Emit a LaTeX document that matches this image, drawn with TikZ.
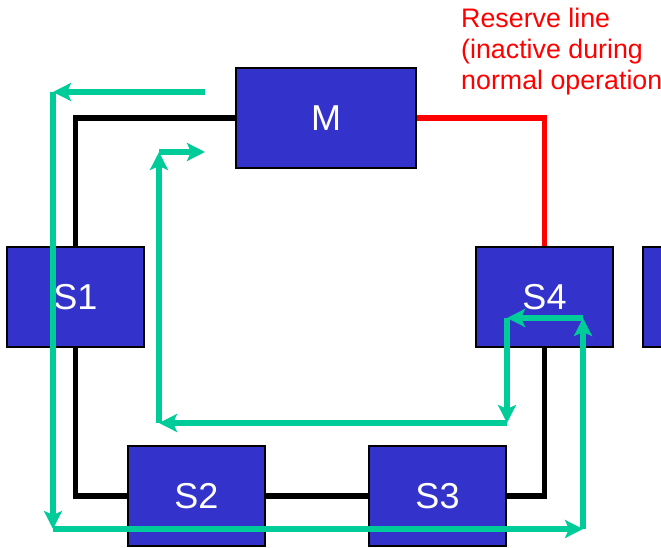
\documentclass[tikz,border=0pt]{standalone}
\usepackage{fontspec}
\setmainfont{Liberation Sans}
\usetikzlibrary{arrows.meta,backgrounds}
\definecolor{rnbox}{HTML}{3333CC}
\definecolor{rnflow}{HTML}{00CC99}
\definecolor{rnres}{HTML}{FF0000}
\tikzset{
  station/.style={draw=black,line width=2pt,fill=rnbox,minimum width=137pt,
              minimum height=100pt,inner sep=0pt,text=white,
              font=\fontsize{36}{36}\selectfont},
  ring/.style={line width=5.5pt,draw=black},
  reserve/.style={line width=5.5pt,draw=rnres},
  flow/.style={-{Stealth[length=18pt,width=18pt,inset=4pt]},line width=5.5pt,draw=rnflow},
  note/.style={text=rnres,font=\fontsize{26.8}{31}\selectfont,align=left,inner sep=0pt},
}

\begin{document}
\begin{tikzpicture}[x=1pt,y=-1pt]
  \useasboundingbox (0,0) rectangle (661,548);
  \clip (0,0) rectangle (661,548);

  % ---------- stations ----------
  \node[station,minimum width=180pt] (M) at (326,118) {M};
  \node[station] (S1) at (75.5,297) {S1};
  \node[station] (S4) at (544.5,297) {S4};
  \node[station] (S5) at (711.5,297) {};
  \node[station] (S2) at (196.5,496) {S2};
  \node[station] (S3) at (437.5,496) {S3};

  % ---------- ring and reserve line (background) ----------
  \begin{scope}[on background layer]
    \draw[ring] (M.west) -| (S1.north);
    \draw[ring] (S1.south) |- (S2.west);
    \draw[ring] (S2) -- (S3);
    \draw[ring] (S3.east) -| (S4.south);
    \draw[reserve] (M.east) -| (S4.north);
  \end{scope}

  \node[note,anchor=north west] (rnote) at (461,8)
    {Reserve line\\(inactive during\\normal operation};

  % ---------- signal flow ----------
  \coordinate (f0) at (205,92);
  \coordinate (f1) at (53,92);
  \coordinate (f2) at (53,529);
  \coordinate (f3) at (583,529);
  \coordinate (f4) at (583,318);
  \coordinate (f5) at (507,318);
  \coordinate (f6) at (507,423);
  \coordinate (f7) at (159,423);
  \coordinate (f8) at (159,152);
  \coordinate (f9) at (205,152);
  \foreach \a/\b in {f0/f1,f1/f2,f2/f3,f3/f4,f4/f5,f5/f6,f6/f7,f7/f8,f8/f9}
    {\draw[flow] (\a) -- (\b);}
\end{tikzpicture}
\end{document}
